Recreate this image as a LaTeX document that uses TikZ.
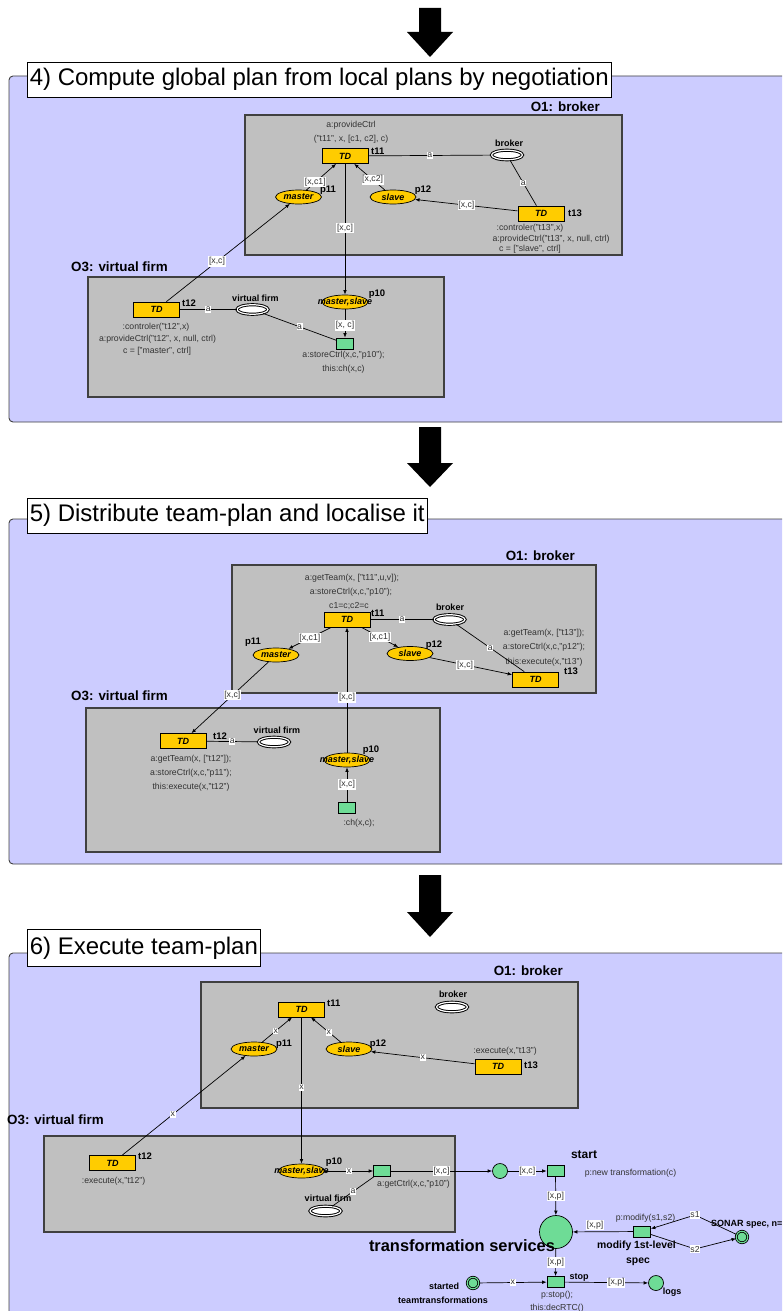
\documentclass[tikz,border=0pt]{standalone}
\usepackage{fontspec}
\setmainfont{Liberation Sans}
\usetikzlibrary{arrows.meta,shapes.geometric}
\definecolor{lav}{HTML}{CCCCFF}
\definecolor{grpfill}{HTML}{C0C0C0}
\definecolor{tdy}{HTML}{FFCC00}
\definecolor{pgreen}{HTML}{6EDC96}
\definecolor{inkgray}{HTML}{333333}
\definecolor{rim}{HTML}{404040}
\begin{document}
\begin{tikzpicture}[x=1pt,y=-1pt,
  panelbg/.style={fill=lav, draw=rim, line width=0.9pt, rounded corners=4pt},
  ttl/.style={draw=black, line width=0.6pt, fill=white, anchor=west, inner xsep=2.5pt, inner ysep=0pt,
    minimum height=35pt, font=\fontsize{24}{26}\selectfont},
  grpbox/.style={fill=grpfill, draw=rim, line width=1.3pt},
  grptitle/.style={font=\fontsize{13.4}{15}\selectfont\bfseries, inner sep=0pt},
  tdbox/.style={rectangle, draw=black, line width=0.7pt, fill=tdy, minimum width=46pt, minimum height=15pt,
    inner sep=0pt, font=\fontsize{9}{10}\selectfont\bfseries\itshape},
  yplace/.style={ellipse, draw=black, line width=0.7pt, fill=tdy, minimum width=46pt, minimum height=14pt, inner sep=0pt},
  yptext/.style={font=\fontsize{9}{10}\selectfont\bfseries\itshape, inner sep=0pt},
  wplace/.style={ellipse, draw=black, line width=0.95pt, double=white, double distance=1.2pt, fill=white,
    minimum width=31pt, minimum height=9.5pt, inner sep=0pt},
  gtrans/.style={rectangle, draw=black, line width=0.7pt, fill=pgreen, minimum width=17pt, minimum height=11pt, inner sep=0pt},
  gplace/.style={circle, draw=black, line width=0.7pt, fill=pgreen, minimum size=15pt, inner sep=0pt},
  gdplace/.style={circle, draw=black, line width=0.8pt, double=pgreen, double distance=1.1pt, fill=pgreen,
    minimum size=11.5pt, inner sep=0pt},
  bigplace/.style={circle, draw=black, line width=0.7pt, fill=pgreen, minimum size=33pt, inner sep=0pt},
  arc/.style={draw=black, line width=0.7pt},
  arr/.style={arc, -{Latex[length=4.5pt,width=3.6pt]}},
  arclab/.style={fill=white, inner xsep=0.6pt, inner ysep=1pt, text=inkgray, font=\fontsize{8.7}{10}\selectfont},
  note/.style={text=inkgray, font=\fontsize{8.7}{10}\selectfont, inner sep=0pt},
  tname/.style={font=\fontsize{9.5}{11}\selectfont\bfseries, inner sep=0pt},
  bname/.style={font=\fontsize{9}{10}\selectfont\bfseries, inner sep=0pt},
  midname/.style={font=\fontsize{10.4}{12}\selectfont\bfseries, inner sep=0pt},
]
\useasboundingbox (0,0) rectangle (782,1311);
\clip (0,0) rectangle (782,1311);

% ---------- step panels ----------
\draw[panelbg] (9,76) rectangle (800,422);
\draw[panelbg] (9,519) rectangle (800,864);
\draw[panelbg] (9,953) rectangle (800,1340);

% ---------- big downward arrows ----------
\fill (419,8) -- (441,8) -- (441,32) -- (453,32) -- (430,57) -- (407,32) -- (419,32) -- cycle;
\fill (419,427) -- (441,427) -- (441,463) -- (453,463) -- (430,487) -- (407,463) -- (419,463) -- cycle;
\fill (419,875) -- (441,875) -- (441,912) -- (453,912) -- (430,937) -- (407,912) -- (419,912) -- cycle;

% ---------- step titles ----------
\node[ttl] (ttl4) at (27,79.5) {4) Compute global plan from local plans by negotiation};
\node[ttl] (ttl5) at (27,515.5) {5) Distribute team-plan and localise it};
\node[ttl, minimum height=37pt] (ttl6) at (27,948) {6) Execute team-plan};

% =====================================================
% Step 4
% =====================================================
\node[grptitle, anchor=east] (o1a) at (600,107) {O1: broker};
\draw[grpbox] (245,115) rectangle (622,255);
\node[grptitle, anchor=east] (o3a) at (168,267) {O3: virtual firm};
\draw[grpbox] (88,277) rectangle (444,397);

\node[note] (a11n1) at (351,125) {a:provideCtrl};
\node[note] (a11n2) at (351,139) {("t11", x, [c1, c2], c)};
\node[tdbox] (a11) at (345,156) {TD};
\node[tname, anchor=west] (a11l) at (371,151) {t11};
\node[wplace] (br1) at (507,155) {};
\node[bname] (br1l) at (509,143) {broker};
\node[tdbox] (a13) at (541,213.5) {TD};
\node[tname, anchor=west] (a13l) at (568,213) {t13};
\node[note] (a13n1) at (530,228) {:controler("t13",x)};
\node[note] (a13n2) at (551,239) {a:provideCtrl("t13", x, null, ctrl)};
\node[note] (a13n3) at (530,249) {c = ["slave", ctrl]};
\node[yplace] (m1) at (298.5,197) {};
\node[yptext] (m1t) at (m1) {master};
\node[tname] (m1l) at (328,190) {p11};
\node[yplace] (s1) at (393,197) {};
\node[yptext] (s1t) at (s1) {slave};
\node[tname] (s1l) at (423,190) {p12};
\node[yplace] (ms1) at (345,302) {};
\node[yptext] (ms1t) at (ms1) {master,slave};
\node[tname] (ms1l) at (377,294) {p10};
\node[tdbox] (a12) at (156.5,309.5) {TD};
\node[tname, anchor=west] (a12l) at (182,303) {t12};
\node[wplace] (vf1) at (252.5,309.5) {};
\node[bname] (vf1l) at (255.5,298) {virtual firm};
\node[gtrans] (st1) at (345,343.5) {};
\node[note] (st1n1) at (343.5,355) {a:storeCtrl(x,c,"p10");};
\node[note] (st1n2) at (343.5,369) {this:ch(x,c)};
\node[note] (a12n1) at (156,327) {:controler("t12",x)};
\node[note] (a12n2) at (157.5,339) {a:provideCtrl("t12", x, null, ctrl)};
\node[note] (a12n3) at (157,351) {c = ["master", ctrl]};

\draw[arc] (a11) -- node[arclab]{a} (br1);
\draw[arc] (br1) -- node[arclab]{a} (a13);
\draw[arr] (m1) -- node[arclab, pos=0.3]{[x,c1]} (a11);
\draw[arr] (s1) -- node[arclab, pos=0.4]{[x,c2]} (a11);
\draw[arr] (a13) -- node[arclab]{[x,c]} (s1);
\draw[arr] (a11) -- node[arclab, pos=0.49]{[x,c]} (ms1);
\draw[arr] (a12) -- node[arclab, pos=0.41]{[x,c]} (m1);
\draw[arc] (a12) -- node[arclab]{a} (vf1);
\draw[arc] (vf1) -- node[arclab]{a} (st1);
\draw[arr] (ms1) -- node[arclab, pos=0.57]{[x, c]} (st1);

% =====================================================
% Step 5
% =====================================================
\node[grptitle, anchor=east] (o1b) at (575,556) {O1: broker};
\draw[grpbox] (232,565) rectangle (596,693);
\node[grptitle, anchor=east] (o3b) at (168,696) {O3: virtual firm};
\draw[grpbox] (86,708) rectangle (440,852);

\node[note] (b11n1) at (352,578) {a:getTeam(x, ["t11",u,v]);};
\node[note] (b11n2) at (351,592) {a:storeCtrl(x,c,"p10");};
\node[note] (b11n3) at (349,606) {c1=c;c2=c};
\node[tdbox] (b11) at (347,619.5) {TD};
\node[tname, anchor=west] (b11l) at (371,613) {t11};
\node[wplace] (br2) at (449.5,619.5) {};
\node[bname] (br2l) at (450,607) {broker};
\node[tdbox] (b13) at (535.5,679.5) {TD};
\node[tname, anchor=west] (b13l) at (564,671) {t13};
\node[note] (b13n1) at (544,633) {a:getTeam(x, ["t13"]);};
\node[note] (b13n2) at (544,647) {a:storeCtrl(x,c,"p12");};
\node[note] (b13n3) at (544,662) {this:execute(x,"t13")};
\node[yplace] (m2) at (276,655) {};
\node[yptext] (m2t) at (m2) {master};
\node[tname] (m2l) at (253,642) {p11};
\node[yplace] (s2) at (410,653.5) {};
\node[yptext] (s2t) at (s2) {slave};
\node[tname] (s2l) at (434,645) {p12};
\node[tdbox] (b12) at (183,741) {TD};
\node[tname, anchor=west] (b12l) at (213,736) {t12};
\node[wplace] (vf2) at (274,742) {};
\node[bname] (vf2l) at (277,730) {virtual firm};
\node[note] (b12n1) at (191,759) {a:getTeam(x, ["t12"]);};
\node[note] (b12n2) at (191,773) {a:storeCtrl(x,c,"p11");};
\node[note] (b12n3) at (191,787) {this:execute(x,"t12")};
\node[yplace] (ms2) at (347,760) {};
\node[yptext] (ms2t) at (ms2) {master,slave};
\node[tname] (ms2l) at (371,750) {p10};
\node[gtrans] (ch2) at (347,807.5) {};
\node[note] (ch2n) at (359,823) {:ch(x,c);};

\draw[arc] (b11) -- node[arclab]{a} (br2);
\draw[arc] (br2) -- node[arclab]{a} (b13);
\draw[arr] (b11) -- node[arclab]{[x,c1]} (m2);
\draw[arr] (b11) -- node[arclab]{[x,c1]} (s2);
\draw[arr] (s2) -- node[arclab, pos=0.43]{[x,c]} (b13);
\draw[arr] (m2) -- node[arclab, pos=0.47]{[x,c]} (b12);
\draw[arr] (ms2) -- node[arclab, pos=0.44]{[x,c]} (b11);
\draw[arr] (ch2) -- node[arclab]{[x,c]} (ms2);
\draw[arc] (b12) -- node[arclab]{a} (vf2);

% =====================================================
% Step 6
% =====================================================
\node[grptitle, anchor=east] (o1c) at (563,971) {O1: broker};
\draw[grpbox] (201,982) rectangle (578,1108);
\node[grptitle, anchor=west] (o3c) at (7,1120) {O3: virtual firm};
\draw[grpbox] (44,1136) rectangle (455,1232);

\node[tdbox] (c11) at (301.5,1009.5) {TD};
\node[tname, anchor=west] (c11l) at (327,1003) {t11};
\node[wplace] (br3) at (452,1007) {};
\node[bname] (br3l) at (453,994) {broker};
\node[yplace] (m3) at (254,1049) {};
\node[yptext] (m3t) at (m3) {master};
\node[tname] (m3l) at (284,1044) {p11};
\node[yplace] (s3) at (349,1049) {};
\node[yptext] (s3t) at (s3) {slave};
\node[tname] (s3l) at (378,1044) {p12};
\node[tdbox] (c13) at (498,1066.5) {TD};
\node[tname, anchor=west] (c13l) at (524,1065) {t13};
\node[note] (c13n) at (505,1051) {:execute(x,"t13")};
\node[tdbox] (c12) at (112.5,1163) {TD};
\node[tname, anchor=west] (c12l) at (138,1156) {t12};
\node[note] (c12n) at (113.5,1181) {:execute(x,"t12")};
\node[yplace] (ms3) at (301.5,1171) {};
\node[yptext] (ms3t) at (ms3) {master,slave};
\node[tname] (ms3l) at (334,1162) {p10};
\node[gtrans] (gc3) at (382,1171) {};
\node[note] (gc3n) at (413.5,1184) {a:getCtrl(x,c,"p10")};
\node[wplace] (vf3) at (325.5,1211) {};
\node[bname] (vf3l) at (328,1198) {virtual firm};

\node[gplace] (cp3) at (500,1171) {};
\node[gtrans] (start3) at (555.5,1171) {};
\node[font=\fontsize{12}{14}\selectfont\bfseries, inner sep=0pt] (start3l) at (584,1155) {start};
\node[note] (start3n) at (630.5,1173) {p:new transformation(c)};
\node[bigplace] (ts3) at (556,1232) {};
\node[font=\fontsize{16.4}{18}\selectfont\bfseries, inner sep=0pt] (ts3l) at (462,1246) {transformation services};
\node[gtrans] (mod3) at (642,1231.5) {};
\node[note] (mod3n) at (645.5,1218) {p:modify(s1,s2)};
\node[midname] (mod3l1) at (636.5,1246) {modify 1st-level};
\node[midname] (mod3l2) at (638,1262) {spec};
\node[gdplace] (son3) at (742,1237) {};
\node[bname, anchor=west] (son3l) at (711,1224) {SONAR spec, n=};
\coordinate (k1) at (695,1215);
\coordinate (k2) at (695,1249);
\node[gtrans] (stop3) at (555.5,1282) {};
\node[bname] (stop3l) at (579,1277) {stop};
\node[note] (stop3n1) at (557,1295) {p:stop();};
\node[note] (stop3n2) at (557,1308) {this:decRTC()};
\node[gdplace] (sta3) at (473,1283) {};
\node[bname] (sta3l1) at (444,1286) {started};
\node[bname] (sta3l2) at (443,1300) {teamtransformations};
\node[gplace] (log3) at (656,1283) {};
\node[bname] (log3l) at (672,1292) {logs};

\draw[arr] (m3) -- node[arclab, pos=0.45]{x} (c11);
\draw[arr] (s3) -- node[arclab, pos=0.4]{x} (c11);
\draw[arr] (c13) -- node[arclab]{x} (s3);
\draw[arr] (c11) -- node[arclab, pos=0.48]{x} (ms3);
\draw[arr] (c12) -- node[arclab, pos=0.41]{x} (m3);
\draw[arr] (ms3) -- node[arclab]{x} (gc3);
\draw[arc] (vf3) -- node[arclab]{a} (gc3);
\draw[arr] (gc3) -- node[arclab]{[x,c]} (cp3);
\draw[arr] (cp3) -- node[arclab]{[x,c]} (start3);
\draw[arr] (start3) -- node[arclab]{[x,p]} (ts3);
\draw[arr] (mod3) -- node[arclab, pos=0.63, above=1pt]{[x,p]} (ts3);
\draw[arr] (son3) -- (k1) node[arclab]{s1} -- (mod3);
\draw[arr] (mod3) -- (k2) node[arclab]{s2} -- (son3);
\draw[arr] (ts3) -- node[arclab]{[x,p]} (stop3);
\draw[arr] (sta3) -- node[arclab]{x} (stop3);
\draw[arr] (stop3) -- node[arclab, pos=0.62]{[x,p]} (log3);
\end{tikzpicture}
\end{document}
